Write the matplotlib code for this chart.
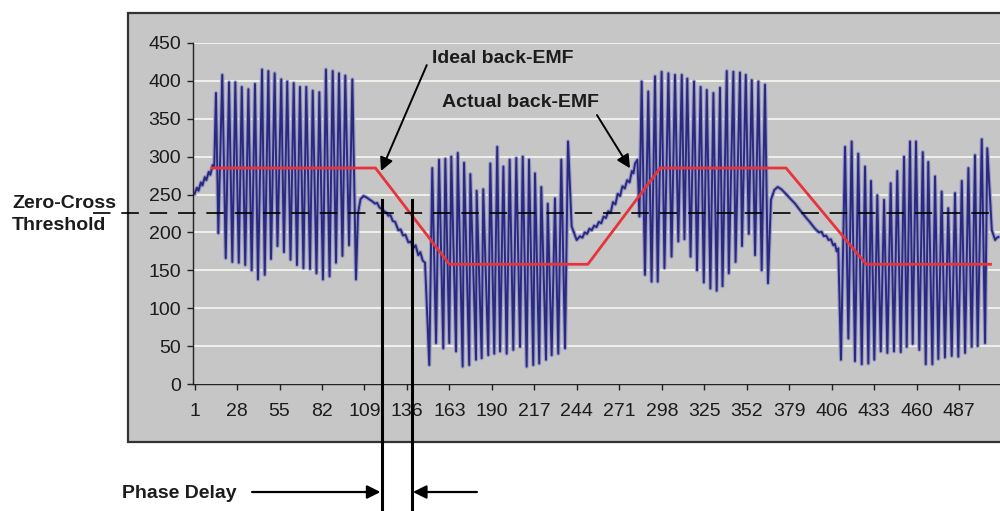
import matplotlib
matplotlib.use("Agg")
import matplotlib.pyplot as plt
from matplotlib.patches import Rectangle

plt.rcParams["font.family"] = ["Liberation Sans", "DejaVu Sans"]

# ---- data (sample index, value) ----
start_x = [1, 2.5, 3.5, 5, 6, 7.5, 8.5, 10, 11, 12.5, 13.5]
start_y = [251, 259, 255, 266, 262, 273, 269, 280, 276, 289, 286]

burst1_peak_x = [14.6, 18.6, 22.9, 26.9, 31.0, 35.2, 39.4, 43.9, 47.9, 51.9, 56.1,
                 59.9, 64.0, 68.0, 72.0, 76.1, 80.3, 84.5, 88.8, 92.8, 96.8, 101.3]
burst1_peak_y = [384, 408, 398, 398, 392, 389, 396, 415, 413, 410, 402,
                 399, 397, 392, 392, 387, 385, 415, 413, 410, 407, 402]
burst1_trough_x = [16.1, 20.8, 25.0, 29.1, 33.2, 37.3, 41.3, 45.6, 49.6, 53.7, 57.8,
                   62.0, 66.1, 70.2, 74.4, 78.5, 82.6, 86.8, 90.9, 95.0, 99.2, 103.6]
burst1_trough_y = [199, 166, 161, 160, 157, 150, 138, 144, 165, 182, 174,
                   164, 157, 153, 152, 146, 138, 142, 160, 169, 183, 138]

bump1_x = [104.9, 106.5, 108.4, 110.5, 112.5, 114, 115.7, 117, 118.5, 120, 121.5,
           123, 124.2, 125.5, 127, 128.5, 130.5, 132, 133.5, 135, 136.9, 138.5,
           140, 141.5, 143.2, 144.5, 146, 147.5]
bump1_y = [225, 244, 248, 246, 243, 241, 238, 239, 233, 231, 228,
           226, 222, 223, 215, 214, 203, 204, 196, 197, 187, 188,
           179, 183, 170, 174, 163, 160]

burst2_trough_x = [150.2, 154.5, 159.1, 162.9, 167.2, 171.4, 175.6, 179.9, 183.5, 187.7, 191.5,
                   195.2, 199.4, 203.6, 207.9, 212.1, 216.3, 220.1, 224.4, 228.0, 232.2, 236.5]
burst2_trough_y = [25, 54, 47, 54, 43, 23, 25, 32, 34, 38, 40,
                   43, 40, 45, 49, 23, 25, 27, 32, 38, 40, 47]
burst2_peak_x = [152.1, 156.4, 160.4, 164.2, 168.3, 172.3, 176.3, 180.3, 184.5, 189.0, 193.4,
                 197.3, 201.3, 205.5, 209.6, 213.6, 217.4, 221.4, 225.5, 230.1, 234.1, 238.4]
burst2_peak_y = [285, 296, 297, 300, 305, 292, 277, 255, 257, 291, 313,
                 287, 296, 298, 300, 296, 278, 260, 238, 245, 296, 320]

ramp2_x = [240.7, 243.9, 246, 247.5, 249, 250.5, 252, 253.5, 255, 256.5, 258, 259.5, 261,
           262.5, 264, 265.5, 267, 268.5, 270, 271.5, 273, 274.5, 276, 277.5, 279, 280, 281]
ramp2_y = [208, 190, 195, 193, 200, 198, 205, 203, 209, 207, 214, 212, 221,
           219, 228, 226, 240, 237, 251, 248, 261, 258, 269, 266, 281, 278, 291]

burst3_peak_x = [282.5, 285.2, 289.4, 293.7, 297.9, 302.2, 306.4, 310.7, 314.2, 318.5, 322.7,
                 326.6, 330.8, 335.0, 339.3, 343.5, 347.7, 351.4, 355.2, 359.4, 363.6]
burst3_peak_y = [296, 399, 386, 406, 412, 410, 408, 408, 403, 399, 392,
                 388, 384, 391, 413, 412, 411, 408, 401, 399, 395]
burst3_trough_x = [283.8, 287.3, 291.5, 295.4, 299.7, 304.2, 308.5, 312.4, 316.3, 320.4, 324.7,
                   328.9, 332.9, 336.6, 340.6, 344.9, 349.0, 353.3, 357.3, 361.5, 365.5]
burst3_trough_y = [221, 144, 135, 135, 153, 168, 188, 191, 168, 150, 134,
                   126, 123, 129, 146, 161, 182, 198, 170, 150, 133]

bump2_x = [367.4, 369.5, 371.7, 374, 376.4, 379.5, 382.7, 386, 389.1, 392, 395.4,
           398, 399.5, 401, 402.5, 404, 405.5, 407, 408, 409.2, 410.2]
bump2_y = [243, 256, 260, 257, 252, 245, 238, 229, 221, 214, 205,
           200, 201, 195, 196, 190, 191, 183, 185, 175, 179]

burst4_trough_x = [411.9, 416.6, 420.8, 425.1, 429.3, 433.1, 437.2, 441.4, 445.6, 449.9, 453.7, 457.5,
                   461.7, 465.8, 470.0, 473.8, 478.0, 482.3, 486.5, 490.8, 495.0, 498.8, 503.5]
burst4_trough_y = [32, 60, 30, 26, 27, 32, 43, 41, 43, 42, 49, 53,
                   45, 26, 26, 33, 35, 37, 36, 41, 49, 50, 54]
burst4_peak_x = [414.5, 418.7, 422.9, 427.2, 431.0, 435.0, 439.3, 443.5, 447.7, 452.0, 455.8, 459.6,
                 463.9, 467.4, 471.7, 475.9, 480.1, 484.4, 488.7, 492.9, 497.1, 501.4, 504.9]
burst4_peak_y = [313, 320, 304, 287, 268, 249, 243, 265, 281, 300, 320, 320,
                 306, 293, 274, 254, 232, 252, 268, 285, 302, 323, 311]

tail_x = [507.8, 509.9, 511, 512]
tail_y = [203, 190, 193, 194]

ideal_x = [12, 116, 163, 251, 297, 377, 428, 507]
ideal_y = [285, 285, 158, 158, 285, 285, 158, 158]

threshold = 225
phase_marks = [120, 139]   # blue / red crossing of the threshold

x_ticks = [1, 28, 55, 82, 109, 136, 163, 190, 217, 244, 271, 298, 325, 352, 379, 406, 433, 460, 487]
y_ticks = [0, 50, 100, 150, 200, 250, 300, 350, 400, 450]


def join(*parts):
    pts = []
    for xs, ys in parts:
        pts += list(zip(xs, ys))
    pts.sort()
    return [p[0] for p in pts], [p[1] for p in pts]


actual_x, actual_y = join(
    (start_x, start_y),
    (burst1_peak_x, burst1_peak_y), (burst1_trough_x, burst1_trough_y),
    (bump1_x, bump1_y),
    (burst2_peak_x, burst2_peak_y), (burst2_trough_x, burst2_trough_y),
    (ramp2_x, ramp2_y),
    (burst3_peak_x, burst3_peak_y), (burst3_trough_x, burst3_trough_y),
    (bump2_x, bump2_y),
    (burst4_peak_x, burst4_peak_y), (burst4_trough_x, burst4_trough_y),
    (tail_x, tail_y),
)

GRAY = "#c6c6c6"
NAVY = "#2a2a7c"
RED = "#e8333c"
TXT = "#1c1c1c"

fig = plt.figure(figsize=(10, 5.11), dpi=100)
fig.patch.set_facecolor("white")
fig.add_artist(Rectangle((0.128, 0.135), 0.95, 0.8395, transform=fig.transFigure,
                         facecolor=GRAY, edgecolor="#333333", lw=1.6, zorder=-1))

ax = fig.add_axes([0.193, 0.2485, 0.807, 0.6674])
ax.set_facecolor("none")

ax.plot(actual_x, actual_y, color="#9c9cca", lw=3.0, zorder=2, solid_joinstyle="round")
ax.plot(actual_x, actual_y, color=NAVY, lw=1.4, zorder=2.1)
ax.plot(ideal_x, ideal_y, color=RED, lw=2.0, zorder=3)
ax.plot([-63.6, 506.7], [threshold, threshold], color="black", lw=1.2,
        dashes=(10.5, 6.5), clip_on=False, zorder=4)

ax.set_xlim(0, 513)
ax.set_ylim(0, 450)
ax.set_xticks(x_ticks)
ax.set_yticks(y_ticks)
ax.yaxis.grid(True, color="#f4f4ee", lw=1.3)
ax.set_axisbelow(True)
for s in ["top", "right"]:
    ax.spines[s].set_visible(False)
for s in ["left", "bottom"]:
    ax.spines[s].set_color("#222222")
    ax.spines[s].set_linewidth(1.0)
ax.tick_params(axis="both", direction="out", length=4.5, width=1.0, color="#222222",
               labelsize=14, labelcolor=TXT)
ax.tick_params(axis="x", pad=9)
ax.tick_params(axis="y", pad=4)

# annotations
ax.text(151.9, 423.5, "Ideal back-EMF", fontsize=14, fontweight="bold", color=TXT,
        ha="left", va="baseline")
ax.annotate("", xy=(119.5, 281), xytext=(148.6, 420.8),
            arrowprops=dict(arrowstyle="-|>", color="black", lw=1.4,
                            mutation_scale=20, shrinkA=0, shrinkB=0))
ax.text(158.1, 365.8, "Actual back-EMF", fontsize=14, fontweight="bold", color=TXT,
        ha="left", va="baseline")
ax.annotate("", xy=(277.8, 284.6), xytext=(256.8, 354.9),
            arrowprops=dict(arrowstyle="-|>", color="black", lw=1.4,
                            mutation_scale=20, shrinkA=0, shrinkB=0))

# phase delay markers
for xm in phase_marks:
    ax.plot([xm, xm], [243, -190], color="black", lw=2.2, clip_on=False, zorder=5)
ax.annotate("", xy=(phase_marks[0] - 0.8, -142.5), xytext=(37.5, -142.5),
            annotation_clip=False,
            arrowprops=dict(arrowstyle="-|>", color="black", lw=1.6,
                            mutation_scale=20, shrinkA=0, shrinkB=0))
ax.annotate("", xy=(phase_marks[1] + 0.8, -142.5), xytext=(180.5, -142.5),
            annotation_clip=False,
            arrowprops=dict(arrowstyle="-|>", color="black", lw=1.6,
                            mutation_scale=20, shrinkA=0, shrinkB=0))

fig.text(0.1217, 1 - 498 / 511, "Phase Delay", fontsize=14, fontweight="bold",
         color=TXT, va="baseline")
fig.text(0.012, 1 - 208 / 511, "Zero-Cross", fontsize=14, fontweight="bold",
         color=TXT, va="baseline")
fig.text(0.012, 1 - 230 / 511, "Threshold", fontsize=14, fontweight="bold",
         color=TXT, va="baseline")

fig.savefig("out.png", dpi=100)
